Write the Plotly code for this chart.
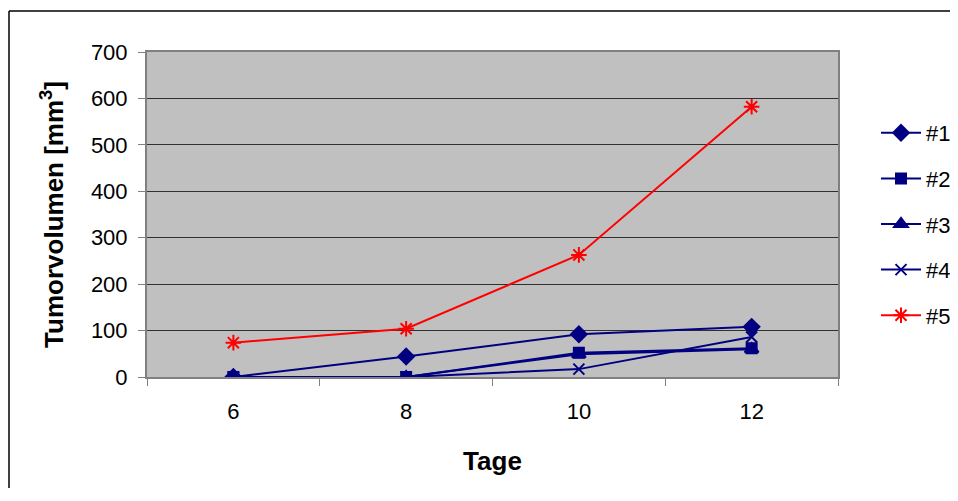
import plotly.graph_objects as go

days = [6, 8, 10, 12]
s1 = [0, 44, 92, 108]
s2 = [0, 0, 52, 62]
s3 = [0, 0, 49, 60]
s4 = [0, 0, 17, 86]
s5 = [74, 104, 263, 582]
names = ["#1", "#2", "#3", "#4", "#5"]
y_ticks = [0, 100, 200, 300, 400, 500, 600, 700]

navy = "#000080"
red = "#FF0000"
series = [
    (s1, "diamond", 12, navy),
    (s2, "square", 10, navy),
    (s3, "triangle-up", 12, navy),
    (s4, "x-thin-open", 11, navy),
    (s5, "asterisk-open", 13, red),
]

fig = go.Figure()
for i, (vals, sym, sz, col) in enumerate(series):
    fig.add_trace(go.Scatter(
        x=days, y=vals, name=names[i], mode="lines+markers",
        line=dict(color=col, width=2),
        marker=dict(symbol=sym, size=sz, color=col, line=dict(color=col, width=2)),
        legendgroup=names[i],
    ))

# page body has an 8px default margin, so figure coords = screen coords - 8
OFF = 8
W, H = 942, 480
L, R, T, B = 147 - OFF, 838 - OFF, 52 - OFF, 377 - OFF
pw, ph = R - L, B - T

def px_x(x):
    return (x - OFF - L) / pw

def px_y(y):
    return (B - (y - OFF)) / ph

border = dict(color="black", width=1.5)
fig.update_layout(
    width=W, height=H,
    margin=dict(l=L, r=W - R, t=T, b=H - B),
    paper_bgcolor="white",
    plot_bgcolor="#C0C0C0",
    font=dict(family="Liberation Sans, Arial, sans-serif", color="black", size=22),
    legend=dict(xref="container", yref="container",
                x=(876 - OFF) / W, y=1 - (112 - OFF) / H,
                xanchor="left", yanchor="top",
                font=dict(size=22), tracegroupgap=14, itemwidth=40,
                bgcolor="rgba(0,0,0,0)"),
    xaxis=dict(
        range=[5, 13], tickvals=days, ticktext=[str(d) for d in days],
        ticks="", showgrid=False, zeroline=False,
        showline=True, linecolor="#808080", linewidth=2, mirror=True,
        ticklabelstandoff=14,
        minor=dict(tick0=5, dtick=2, ticks="outside", ticklen=7, tickcolor="#808080",
                   tickwidth=1, showgrid=False),
        title=dict(text="<b>Tage</b>", font=dict(size=26), standoff=28),
    ),
    yaxis=dict(
        range=[0, 700], tickvals=y_ticks, ticks="outside", ticklen=7,
        tickcolor="#808080", showgrid=True, gridcolor="#303030", gridwidth=1,
        zeroline=False, showline=True, linecolor="#808080", linewidth=2, mirror=True,
        ticklabelstandoff=6,
        title=dict(text="<b>Tumorvolumen [mm<sup>3</sup>]</b>", font=dict(size=26), standoff=20),
    ),
    shapes=[
        dict(type="line", xref="paper", yref="paper",
             x0=px_x(9), x1=px_x(1000), y0=px_y(11), y1=px_y(11), line=border),
        dict(type="line", xref="paper", yref="paper",
             x0=px_x(9), x1=px_x(9), y0=px_y(11), y1=px_y(560), line=border),
    ],
)

fig.write_html("out.html")
